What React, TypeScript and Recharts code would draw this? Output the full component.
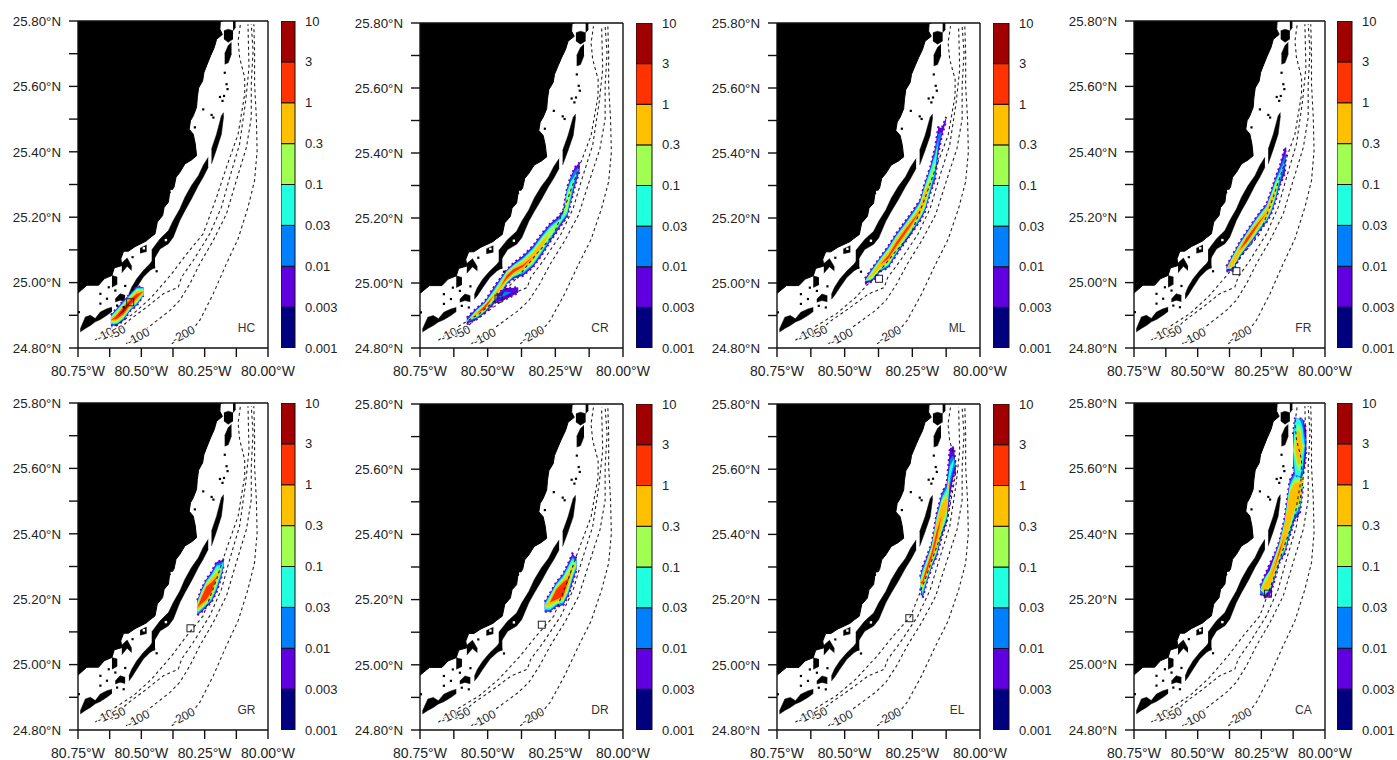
import React from 'react';
import { ComposedChart, BarChart, Bar, Area, Line, Scatter, XAxis, YAxis } from 'recharts';

type Row = number[];

const lonTicks = [-80.75, -80.625, -80.5, -80.375, -80.25, -80.125, -80];
const lonLabels: Record<string, string> = { '-80.75': '80.75°W', '-80.5': '80.50°W', '-80.25': '80.25°W', '-80': '80.00°W' };
const latTicks = [24.8, 24.9, 25.0, 25.1, 25.2, 25.3, 25.4, 25.5, 25.6, 25.7, 25.8];
const latLabels: Record<string, string> = { '24.8': '24.80°N', '25': '25.00°N', '25.2': '25.20°N', '25.4': '25.40°N', '25.6': '25.60°N', '25.8': '25.80°N' };

const barLabels = ['0.001', '0.003', '0.01', '0.03', '0.1', '0.3', '1', '3', '10'];
const barColors = ['#00007f', '#6000e0', '#0080ff', '#20ffe0', '#a0ff50', '#ffc000', '#ff3300', '#a00000'];
// outermost to innermost plume level
const plumeColors = ['#6000e0', '#0080ff', '#20ffe0', '#a0ff50', '#ffc000', '#ff3300', '#a00000'];

const mainlandCoast: Row[] = [
  [-80.75, 24.968], [-80.715, 24.992], [-80.669, 24.992], [-80.646, 25.012], [-80.616, 25.022], [-80.607, 25.045],
  [-80.577, 25.052], [-80.581, 25.073], [-80.57, 25.096], [-80.551, 25.096], [-80.525, 25.11], [-80.481, 25.127],
  [-80.466, 25.137], [-80.446, 25.149], [-80.437, 25.185], [-80.416, 25.205], [-80.41, 25.23], [-80.393, 25.246],
  [-80.389, 25.271], [-80.371, 25.292], [-80.363, 25.322], [-80.348, 25.337], [-80.328, 25.363], [-80.302, 25.375],
  [-80.282, 25.388], [-80.287, 25.424], [-80.295, 25.454], [-80.311, 25.469], [-80.306, 25.495], [-80.295, 25.51],
  [-80.282, 25.536], [-80.279, 25.566], [-80.274, 25.595], [-80.258, 25.617], [-80.253, 25.642], [-80.24, 25.668],
  [-80.227, 25.693], [-80.212, 25.719], [-80.203, 25.744], [-80.18, 25.759], [-80.19, 25.775], [-80.188, 25.8],
];

// island chains: lon, low lat, high lat
const keysLower: Row[] = [
  [-80.741, 24.849, 24.858], [-80.721, 24.86, 24.895], [-80.701, 24.869, 24.9], [-80.682, 24.88, 24.89],
  [-80.662, 24.887, 24.91], [-80.636, 24.9, 24.92], [-80.616, 24.912, 24.925],
];
const keysCluster: Row[] = [[-80.603, 24.941, 24.95], [-80.584, 24.946, 24.966], [-80.564, 24.942, 24.961]];
const keysMiddle: Row[] = [
  [-80.549, 24.95, 24.965], [-80.538, 24.961, 24.986], [-80.518, 24.986, 25.012], [-80.492, 25.017, 25.037],
  [-80.466, 25.037, 25.058], [-80.446, 25.047, 25.078],
];
const keysStick: Row[] = [[-80.616, 24.986, 25.022], [-80.595, 24.995, 25.017]];
const keysHook: Row[] = [[-80.577, 25.03, 25.06], [-80.556, 25.05, 25.075], [-80.538, 25.037, 25.05]];
const keysLoop: Row[] = [[-80.505, 25.09, 25.105], [-80.479, 25.095, 25.115]];
const keysMain: Row[] = [
  [-80.459, 25.06, 25.1], [-80.426, 25.103, 25.134], [-80.393, 25.119, 25.159], [-80.374, 25.139, 25.19],
  [-80.348, 25.19, 25.225], [-80.328, 25.22, 25.261], [-80.302, 25.256, 25.297], [-80.275, 25.297, 25.327],
  [-80.256, 25.322, 25.358], [-80.236, 25.353, 25.383],
];
const keysUpper: Row[] = [[-80.223, 25.363, 25.408], [-80.203, 25.408, 25.454], [-80.184, 25.454, 25.51], [-80.175, 25.51, 25.52]];
const keysBlobA: Row[] = [[-80.171, 25.668, 25.7], [-80.157, 25.672, 25.725], [-80.144, 25.7, 25.735]];
const keysBlobB: Row[] = [[-80.174, 25.745, 25.77], [-80.157, 25.735, 25.775], [-80.138, 25.745, 25.77]];
const keysTop: Row[] = [[-80.138, 25.77, 25.8], [-80.128, 25.78, 25.8]];
const islandChains = [keysLower, keysCluster, keysMiddle, keysStick, keysHook, keysLoop, keysMain, keysUpper, keysBlobA, keysBlobB, keysTop];

const islets: Row[] = [
  [-80.171, 25.642], [-80.164, 25.607], [-80.16, 25.592], [-80.174, 25.571], [-80.18, 25.556], [-80.19, 25.568],
  [-80.256, 25.53], [-80.223, 25.513], [-80.216, 25.505], [-80.289, 25.475], [-80.295, 25.424], [-80.452, 25.052],
  [-80.662, 24.936], [-80.636, 24.951], [-80.603, 24.976], [-80.662, 24.966], [-80.629, 24.986], [-80.747, 24.91], [-80.45, 25.047],
  [-80.596, 24.93], [-80.57, 24.925], [-80.564, 24.99], [-80.44, 25.035], [-80.535, 25.078],
];
const whiteFlecks: Row[] = [
  [-80.446, 25.137], [-80.403, 25.13], [-80.38, 25.28], [-80.364, 25.275], [-80.355, 25.27], [-80.54, 25.07], [-80.49, 25.105],
];

const depth10: Row[] = [
  [-80.682, 24.824], [-80.603, 24.869], [-80.531, 24.905], [-80.459, 24.956], [-80.38, 25.027], [-80.321, 25.088],
  [-80.256, 25.149], [-80.203, 25.261], [-80.164, 25.353], [-80.118, 25.454], [-80.092, 25.576], [-80.092, 25.627],
  [-80.112, 25.688], [-80.118, 25.739], [-80.109, 25.79],
];
const depth50: Row[] = [
  [-80.616, 24.832], [-80.557, 24.88], [-80.479, 24.925], [-80.413, 24.966], [-80.354, 24.986], [-80.341, 25.017],
  [-80.295, 25.068], [-80.23, 25.149], [-80.184, 25.23], [-80.151, 25.322], [-80.112, 25.424], [-80.088, 25.556],
  [-80.075, 25.658], [-80.079, 25.79],
];
const depth100: Row[] = [
  [-80.56, 24.813], [-80.479, 24.859], [-80.387, 24.915], [-80.348, 24.946], [-80.308, 24.997], [-80.269, 25.058],
  [-80.216, 25.129], [-80.164, 25.21], [-80.125, 25.312], [-80.085, 25.414], [-80.066, 25.505], [-80.066, 25.607],
  [-80.059, 25.708], [-80.066, 25.79],
];
const depth200: Row[] = [
  [-80.38, 24.813], [-80.295, 24.859], [-80.269, 24.885], [-80.216, 24.966], [-80.164, 25.058], [-80.118, 25.134],
  [-80.079, 25.23], [-80.053, 25.312], [-80.043, 25.403], [-80.046, 25.505], [-80.053, 25.607], [-80.053, 25.708], [-80.056, 25.79],
];
const depthLines = [depth10, depth50, depth100, depth200];
const depthLabels = [
  { lon: -80.642, lat: 24.839, text: '-10' },
  { lon: -80.594, lat: 24.846, text: '-50' },
  { lon: -80.511, lat: 24.832, text: '-100' },
  { lon: -80.332, lat: 24.839, text: '-200' },
];

// lon, lat, then half height of each concentration level
const plumeHC: Row[] = [
  [-80.62, 24.885, 0.016, 0.014, 0.011, 0.008, 0.004],
  [-80.597, 24.895, 0.026, 0.024, 0.021, 0.017, 0.012, 0.006],
  [-80.57, 24.915, 0.031, 0.028, 0.025, 0.021, 0.016, 0.011, 0.005],
  [-80.544, 24.94, 0.026, 0.024, 0.022, 0.018, 0.014, 0.009, 0.002],
  [-80.518, 24.959, 0.029, 0.027, 0.024, 0.02, 0.014, 0.007],
  [-80.492, 24.973, 0.013, 0.012, 0.01, 0.007, 0.003],
];
const plumeCR: Row[] = [
  [-80.577, 24.883, 0.01, 0.004],
  [-80.54, 24.906, 0.017, 0.014, 0.012, 0.009, 0.005],
  [-80.51, 24.926, 0.018, 0.015, 0.013, 0.011, 0.008, 0.005],
  [-80.479, 24.959, 0.026, 0.02, 0.016, 0.012, 0.005],
  [-80.454, 24.986, 0.028, 0.024, 0.02, 0.014, 0.008],
  [-80.43, 25.018, 0.022, 0.02, 0.018, 0.015, 0.011, 0.005],
  [-80.405, 25.037, 0.024, 0.02, 0.018, 0.014, 0.01, 0.005],
  [-80.368, 25.054, 0.031, 0.026, 0.022, 0.018, 0.013, 0.003],
  [-80.332, 25.082, 0.033, 0.028, 0.024, 0.019, 0.013],
  [-80.301, 25.118, 0.033, 0.028, 0.023, 0.018, 0.01],
  [-80.27, 25.154, 0.028, 0.024, 0.018, 0.012],
  [-80.24, 25.183, 0.02, 0.014, 0.01, 0.005],
  [-80.221, 25.205, 0.018, 0.012, 0.008],
  [-80.206, 25.249, 0.045, 0.04, 0.035, 0.025],
  [-80.194, 25.285, 0.04, 0.035, 0.025, 0.012],
  [-80.178, 25.326, 0.03, 0.02, 0.005],
  [-80.16, 25.359, 0.012],
];
const plumeCRLobe: Row[] = [
  [-80.467, 24.952, 0.012],
  [-80.436, 24.967, 0.018, 0.006],
  [-80.411, 24.972, 0.013],
  [-80.387, 24.979, 0.008],
];
const plumeML: Row[] = [
  [-80.425, 25.006, 0.008],
  [-80.4, 25.024, 0.02, 0.017, 0.014, 0.01, 0.004],
  [-80.369, 25.057, 0.022, 0.02, 0.017, 0.014, 0.01],
  [-80.339, 25.08, 0.033, 0.03, 0.026, 0.022, 0.015, 0.005],
  [-80.308, 25.121, 0.033, 0.03, 0.026, 0.021, 0.015, 0.006],
  [-80.277, 25.157, 0.032, 0.028, 0.024, 0.02, 0.015, 0.006],
  [-80.246, 25.193, 0.032, 0.028, 0.024, 0.018, 0.012, 0.004],
  [-80.221, 25.224, 0.032, 0.028, 0.024, 0.02, 0.013],
  [-80.203, 25.265, 0.045, 0.04, 0.035, 0.03, 0.02],
  [-80.184, 25.316, 0.04, 0.035, 0.03, 0.016],
  [-80.166, 25.367, 0.05, 0.04, 0.025, 0.006],
  [-80.154, 25.439, 0.04, 0.02],
  [-80.141, 25.465, 0.012],
  [-80.125, 25.505, 0.006],
];
const plumeFR: Row[] = [
  [-80.387, 25.042, 0.008],
  [-80.361, 25.062, 0.025, 0.022, 0.02, 0.016, 0.012],
  [-80.335, 25.1, 0.024, 0.021, 0.018, 0.014, 0.01],
  [-80.309, 25.129, 0.026, 0.023, 0.02, 0.017, 0.013, 0.007],
  [-80.283, 25.157, 0.028, 0.025, 0.022, 0.018, 0.013, 0.006],
  [-80.256, 25.187, 0.028, 0.025, 0.021, 0.017, 0.012, 0.003],
  [-80.23, 25.212, 0.028, 0.025, 0.021, 0.017, 0.012],
  [-80.211, 25.246, 0.035, 0.03, 0.026, 0.022, 0.014],
  [-80.194, 25.286, 0.036, 0.03, 0.025, 0.016, 0.003],
  [-80.175, 25.332, 0.03, 0.022, 0.01],
  [-80.158, 25.373, 0.04, 0.015],
  [-80.152, 25.408, 0.005],
];
const plumeGR: Row[] = [
  [-80.279, 25.174, 0.023, 0.02, 0.017, 0.012, 0.006],
  [-80.262, 25.197, 0.036, 0.032, 0.028, 0.024, 0.018, 0.01],
  [-80.243, 25.219, 0.043, 0.04, 0.036, 0.032, 0.027, 0.02],
  [-80.223, 25.237, 0.046, 0.042, 0.038, 0.032, 0.025, 0.015],
  [-80.203, 25.268, 0.046, 0.04, 0.034, 0.025, 0.012],
  [-80.184, 25.293, 0.025, 0.02, 0.012],
  [-80.174, 25.316, 0.007],
];
const plumeDR: Row[] = [
  [-80.289, 25.178, 0.015, 0.012, 0.008],
  [-80.27, 25.191, 0.028, 0.025, 0.022, 0.016, 0.008],
  [-80.246, 25.216, 0.038, 0.035, 0.032, 0.028, 0.022, 0.016],
  [-80.221, 25.231, 0.048, 0.045, 0.04, 0.035, 0.03, 0.022],
  [-80.203, 25.26, 0.05, 0.045, 0.04, 0.032, 0.02, 0.005],
  [-80.187, 25.296, 0.045, 0.036, 0.03, 0.02, 0.006],
  [-80.172, 25.309, 0.018, 0.015, 0.008],
];
const plumeEL: Row[] = [
  [-80.221, 25.252, 0.018, 0.015, 0.01, 0.006],
  [-80.212, 25.253, 0.048, 0.042, 0.035, 0.025, 0.015, 0.005],
  [-80.197, 25.291, 0.04, 0.036, 0.03, 0.025, 0.018, 0.008],
  [-80.178, 25.337, 0.038, 0.034, 0.03, 0.025, 0.018, 0.008],
  [-80.16, 25.398, 0.066, 0.06, 0.054, 0.048, 0.04, 0.012],
  [-80.141, 25.46, 0.066, 0.06, 0.052, 0.045, 0.035],
  [-80.123, 25.496, 0.06, 0.055, 0.045, 0.03, 0.018],
  [-80.111, 25.59, 0.075, 0.04, 0.02],
  [-80.096, 25.627, 0.04, 0.02, 0.005],
  [-80.089, 25.59, 0.007],
];
const plumeCA: Row[] = [
  [-80.254, 25.229, 0.013, 0.01],
  [-80.237, 25.239, 0.033, 0.028, 0.025, 0.02, 0.01],
  [-80.217, 25.258, 0.05, 0.03, 0.03, 0.026, 0.02],
  [-80.198, 25.298, 0.04, 0.036, 0.03, 0.027, 0.021, 0.002],
  [-80.178, 25.347, 0.033, 0.03, 0.026, 0.022, 0.016, 0.006],
  [-80.158, 25.395, 0.056, 0.05, 0.045, 0.04, 0.034],
  [-80.139, 25.477, 0.085, 0.08, 0.07, 0.06, 0.05],
  [-80.119, 25.518, 0.076, 0.07, 0.06, 0.05, 0.04],
  [-80.099, 25.528, 0.066, 0.06, 0.05, 0.04, 0.03],
  [-80.086, 25.569, 0.025, 0.02, 0.015, 0.01, 0.005],
];
const plumeCAUpper: Row[] = [
  [-80.125, 25.655, 0.05, 0.02],
  [-80.118, 25.665, 0.087, 0.087, 0.087, 0.03],
  [-80.108, 25.665, 0.087, 0.087, 0.087, 0.07, 0.05],
  [-80.098, 25.662, 0.09, 0.09, 0.087, 0.07, 0.05],
  [-80.088, 25.665, 0.087, 0.087, 0.06, 0.01],
  [-80.08, 25.67, 0.065, 0.03],
  [-80.073, 25.686, 0.03],
];

const panels = [
  { name: 'HC', left: 78, top: 21, w: 190, h: 327, barLeft: 281, barW: 14, plumes: [plumeHC], release: [-80.544, 24.94] },
  { name: 'CR', left: 420, top: 23, w: 203, h: 325, barLeft: 636, barW: 16, plumes: [plumeCR, plumeCRLobe], release: [-80.46, 24.952] },
  { name: 'ML', left: 777, top: 23, w: 203, h: 325, barLeft: 993, barW: 16, plumes: [plumeML], release: [-80.373, 25.013] },
  { name: 'FR', left: 1134, top: 21, w: 191, h: 327, barLeft: 1337, barW: 15, plumes: [plumeFR], release: [-80.348, 25.035] },
  { name: 'GR', left: 78, top: 403, w: 190, h: 327, barLeft: 281, barW: 14, plumes: [plumeGR], release: [-80.306, 25.111] },
  { name: 'DR', left: 420, top: 404, w: 203, h: 326, barLeft: 636, barW: 16, plumes: [plumeDR], release: [-80.3, 25.123] },
  { name: 'EL', left: 777, top: 404, w: 203, h: 326, barLeft: 993, barW: 16, plumes: [plumeEL], release: [-80.261, 25.143] },
  { name: 'CA', left: 1134, top: 403, w: 191, h: 327, barLeft: 1337, barW: 15, plumes: [plumeCA, plumeCAUpper], release: [-80.224, 25.217] },
];

const FONT = '"Liberation Sans", Arial, sans-serif';
const INK = '#222';
const axisStroke = { stroke: '#111', strokeWidth: 1.4 };
const lonDomain = [-80.75, -80];
const latDomain = [24.8, 25.8];

const landRows = mainlandCoast.map(([lon, lat]) => ({ lon, range: [lat, 25.8] }));
const chainRows = islandChains.map((c) => c.map(([lon, lo, hi]) => ({ lon, range: [lo, hi] })));
const isletRows = islets.map(([lon, lat]) => ({ lon, lat }));
const fleckRows = whiteFlecks.map(([lon, lat]) => ({ lon, lat }));
const depthRows = depthLines.map((c) => c.map(([lon, lat]) => ({ lon, lat })));
const plumeRows = (rows: Row[]) =>
  rows.map((r) => {
    const row: any = { lon: r[0] };
    plumeColors.forEach((_, li) => {
      const half = r[2 + li] ?? 0;
      row[`level${li}`] = [r[1] - half, r[1] + half];
    });
    return row;
  });

const IsletMark = (p: any) => <rect x={p.cx - 1} y={p.cy - 1} width={2.2} height={2.2} fill="#000" />;
const FleckMark = (p: any) => <rect x={p.cx - 1.2} y={p.cy - 1.2} width={2.4} height={2.4} fill="#fff" />;
const ReleaseMark = (p: any) => <rect x={p.cx - 3.5} y={p.cy - 3.5} width={7} height={7} fill="none" stroke="#222" strokeWidth={1} />;
const DepthLabel = (p: any) => (
  <text x={p.cx} y={p.cy} fontSize={12} fontFamily={FONT} fill="#222" textAnchor="middle" dominantBaseline="middle"
    stroke="#fff" strokeWidth={2} paintOrder="stroke" transform={`rotate(-28 ${p.cx} ${p.cy})`}>
    {p.text ?? p.payload?.text}
  </text>
);
const NameMark = (text: string) => (p: any) => (
  <text x={p.cx} y={p.cy} fontSize={12} fontFamily={FONT} fill="#333" textAnchor="middle" dominantBaseline="middle">{text}</text>
);

const common = { xAxisId: 'b', yAxisId: 'l', isAnimationActive: false } as const;

function MapPanel({ cfg }: { cfg: (typeof panels)[number] }) {
  const leftW = 70, rightW = 14, topH = 14, bottomH = 40, rightPad = 34;
  return (
    <div style={{ position: 'absolute', left: cfg.left - leftW, top: cfg.top - topH }}>
      <ComposedChart width={cfg.w + leftW + rightW + rightPad} height={cfg.h + topH + bottomH} margin={{ top: 0, right: rightPad, bottom: 0, left: 0 }}>
        <XAxis xAxisId="b" type="number" dataKey="lon" orientation="bottom" domain={lonDomain} ticks={lonTicks} interval={0} allowDataOverflow
          height={bottomH} tickSize={9} tickMargin={9} tick={{ fontSize: 14, fill: INK, fontFamily: FONT }} tickLine={axisStroke} axisLine={axisStroke}
          tickFormatter={(v: number) => lonLabels[String(v)] ?? ''} />
        <XAxis xAxisId="t" type="number" orientation="top" domain={lonDomain} ticks={lonTicks} interval={0} allowDataOverflow
          height={topH} tickSize={9} tick={false} tickLine={axisStroke} axisLine={axisStroke} />
        <YAxis yAxisId="l" type="number" dataKey="lat" orientation="left" domain={latDomain} ticks={latTicks} interval={0} allowDataOverflow
          width={leftW} tickSize={9} tickMargin={8} tick={{ fontSize: 13.3, fill: INK, fontFamily: FONT }} tickLine={axisStroke} axisLine={axisStroke}
          tickFormatter={(v: number) => latLabels[String(v)] ?? ''} />
        <YAxis yAxisId="r" type="number" orientation="right" domain={latDomain} ticks={latTicks} interval={0} allowDataOverflow
          width={rightW} tickSize={9} tick={false} tickLine={axisStroke} axisLine={axisStroke} />

        <Area {...common} data={landRows} dataKey="range" type="linear" stroke="#000" strokeWidth={1} fill="#000" fillOpacity={1} dot={false} activeDot={false} />
        {chainRows.map((rows, i) => (
          <Area key={`chain${i}`} {...common} data={rows} dataKey="range" type="linear" stroke="#000" strokeWidth={0.5} fill="#000" fillOpacity={1} dot={false} activeDot={false} />
        ))}
        <Scatter {...common} data={isletRows} dataKey="lat" shape={IsletMark} />
        <Scatter {...common} data={fleckRows} dataKey="lat" shape={FleckMark} />

        {cfg.plumes.flatMap((plume, pi) =>
          plumeColors.map((color, li) => (
            <Area key={`plume${pi}-${li}`} {...common} data={plumeRows(plume)} type="linear" dataKey={`level${li}`}
              stroke={li === 0 ? color : 'none'} strokeWidth={li === 0 ? 2.2 : 0} strokeDasharray={li === 0 ? '2 3' : undefined}
              fill={color} fillOpacity={1} dot={false} activeDot={false} />
          ))
        )}

        {depthRows.map((rows, i) => (
          <Line key={`depth${i}`} {...common} data={rows} dataKey="lat" type="linear" stroke="#222" strokeWidth={1.1} strokeDasharray="3 3" dot={false} activeDot={false} />
        ))}
        <Scatter {...common} data={depthLabels} dataKey="lat" shape={DepthLabel} />
        <Scatter {...common} data={[{ lon: cfg.release[0], lat: cfg.release[1] }]} dataKey="lat" shape={ReleaseMark} />
        <Scatter {...common} data={[{ lon: -80.085, lat: 24.86 }]} dataKey="lat" shape={NameMark(cfg.name)} />
      </ComposedChart>
    </div>
  );
}

const barRow = [Object.fromEntries(barColors.map((_, i) => [`s${i}`, 1]))];

function ColorBar({ cfg }: { cfg: (typeof panels)[number] }) {
  const pad = 10;
  return (
    <div style={{ position: 'absolute', left: cfg.barLeft, top: cfg.top - pad }}>
      <BarChart width={cfg.barW + 50} height={cfg.h + 2 * pad} data={barRow} barCategoryGap={0} margin={{ top: pad, right: 0, bottom: pad, left: 0 }}>
        <XAxis hide type="category" />
        <YAxis orientation="right" type="number" domain={[0, 8]} ticks={[0, 1, 2, 3, 4, 5, 6, 7, 8]} interval={0} allowDataOverflow width={50}
          axisLine={false} tickLine={false} tickSize={8} tickMargin={2} tick={{ fontSize: 13, fill: INK, fontFamily: FONT }}
          tickFormatter={(v: number) => barLabels[v]} />
        {barColors.map((c, i) => (
          <Bar key={c} dataKey={`s${i}`} stackId="bar" fill={c} stroke="#111" strokeWidth={1} isAnimationActive={false} />
        ))}
      </BarChart>
    </div>
  );
}

export default function App() {
  return (
    <div style={{ position: 'absolute', left: 0, top: 0, width: 1397, height: 760, background: '#fff', overflow: 'hidden' }}>
      {panels.map((cfg) => (
        <React.Fragment key={cfg.name}>
          <MapPanel cfg={cfg} />
          <ColorBar cfg={cfg} />
        </React.Fragment>
      ))}
    </div>
  );
}
